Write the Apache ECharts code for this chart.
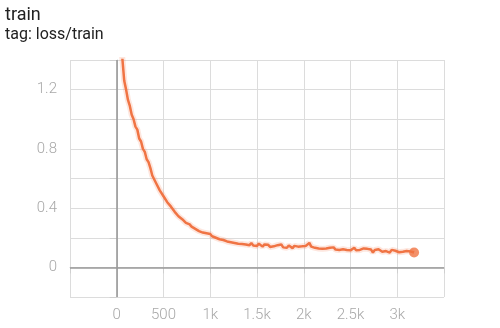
<!DOCTYPE html>
<html>
<head>
<meta charset="utf-8">
<script src="https://cdn.jsdelivr.net/npm/echarts@6/dist/echarts.min.js"></script>
<style>
html,body{margin:0;padding:0;background:#fff;}
#c{width:500px;height:328px;}
</style>
</head>
<body>
<div id="c"></div>
<script>
// [step, loss]
var lossPoints = [
[0,2.00],[20,1.72],[40,1.50],[60,1.41],[80,1.26],[100,1.20],[120,1.13],[140,1.09],[160,1.03],[180,1.00],
[200,0.95],[220,0.93],[240,0.87],[260,0.85],[280,0.80],[300,0.78],[320,0.73],[340,0.71],[360,0.67],[380,0.62],
[400,0.61],[420,0.57],[440,0.56],[460,0.52],[480,0.51],[500,0.48],[520,0.47],[540,0.44],[560,0.43],[580,0.41],
[600,0.40],[620,0.375],[640,0.37],[660,0.345],[680,0.34],[700,0.325],[720,0.32],[740,0.30],[760,0.295],[780,0.29],
[800,0.275],[820,0.28],[840,0.26],[860,0.265],[880,0.245],[900,0.25],[920,0.235],[940,0.24],[960,0.23],[980,0.22],
[1000,0.225],[1020,0.21],[1040,0.215],[1060,0.20],[1080,0.205],[1100,0.19],[1120,0.195],[1140,0.185],[1160,0.19],[1180,0.175],
[1200,0.18],[1220,0.17],[1240,0.178],[1260,0.165],[1280,0.172],[1300,0.16],[1320,0.168],[1340,0.158],[1360,0.17],[1380,0.155],
[1400,0.162],[1420,0.15],[1440,0.165],[1460,0.148],[1480,0.158],[1500,0.145],[1520,0.16],[1540,0.148],[1560,0.14],[1580,0.155],
[1600,0.145],[1620,0.152],[1640,0.138],[1660,0.15],[1680,0.142],[1700,0.135],[1720,0.15],[1740,0.14],[1760,0.155],[1780,0.135],
[1800,0.145],[1820,0.132],[1840,0.148],[1860,0.138],[1880,0.13],[1900,0.145],[1920,0.135],[1940,0.14],[1960,0.128],[1980,0.142],
[2000,0.135],[2020,0.145],[2040,0.155],[2060,0.165],[2080,0.14],[2100,0.15],[2120,0.132],[2140,0.14],[2160,0.128],[2180,0.135],
[2200,0.125],[2220,0.138],[2240,0.128],[2260,0.12],[2280,0.132],[2300,0.125],[2320,0.135],[2340,0.12],[2360,0.128],[2380,0.118],
[2400,0.13],[2420,0.122],[2440,0.135],[2460,0.118],[2480,0.128],[2500,0.115],[2520,0.125],[2540,0.132],[2560,0.115],[2580,0.125],
[2600,0.118],[2620,0.11],[2640,0.128],[2660,0.118],[2680,0.125],[2700,0.112],[2720,0.12],[2740,0.10],[2760,0.118],[2780,0.11],
[2800,0.122],[2820,0.112],[2840,0.105],[2860,0.118],[2880,0.11],[2900,0.115],[2920,0.10],[2940,0.118],[2960,0.108],[2980,0.112],
[3000,0.118],[3020,0.102],[3040,0.112],[3060,0.105],[3080,0.098],[3100,0.11],[3120,0.102],[3140,0.108],[3160,0.10],[3180,0.10]
];
var xTickLabels = {'0':'0','500':'500','1000':'1k','1500':'1.5k','2000':'2k','2500':'2.5k','3000':'3k'};
var yTickLabels = {'0':'0','0.4':'0.4','0.8':'0.8','1.2':'1.2'};

var last = lossPoints[lossPoints.length-1];
var chart = echarts.init(document.getElementById('c'));
var lblFont = 'Roboto, "Liberation Sans", sans-serif';
chart.setOption({
  animation:false,
  graphic:[
    {type:'text', left:5, top:6, style:{text:'train', fontSize:18, fontFamily:lblFont, fill:'#212121'}},
    {type:'text', left:5, top:27, style:{text:'tag: loss/train', fontSize:16, fontFamily:lblFont, fill:'#212121'}}
  ],
  grid:{left:70, right:56, top:60, bottom:31},
  xAxis:{type:'value', min:-500, max:3500, interval:500,
    axisLine:{show:true, lineStyle:{color:'#cfcfcf'}},
    axisTick:{show:true, length:6, lineStyle:{color:'#cfcfcf'}},
    splitLine:{show:true, lineStyle:{color:'#dcdcdc'}},
    axisLabel:{margin:11, color:'#a8a8a8', fontSize:15, fontFamily:lblFont, fontWeight:300,
      formatter:function(v){var k=String(Math.round(v)); return xTickLabels[k]!==undefined?xTickLabels[k]:'';}}
  },
  yAxis:{type:'value', min:-0.2, max:1.4, interval:0.2,
    axisLine:{show:true, lineStyle:{color:'#cfcfcf'}},
    axisTick:{show:true, length:7, lineStyle:{color:'#cfcfcf'}},
    splitLine:{show:true, lineStyle:{color:'#dcdcdc'}},
    axisLabel:{margin:13, color:'#a8a8a8', fontSize:15, fontFamily:lblFont, fontWeight:300,
      formatter:function(v){var k=String(Math.round(v*10)/10); return yTickLabels[k]!==undefined?yTickLabels[k]:'';}}
  },
  series:[
    {type:'line', data:lossPoints, showSymbol:false, symbol:'none', clip:true, silent:true,
      lineStyle:{color:'rgba(245,130,90,0.2)', width:6}, z:1},
    {type:'line', data:lossPoints, showSymbol:false, symbol:'none', clip:true,
      lineStyle:{color:'#f07444', width:2.5}, z:3,
      markLine:{silent:true, symbol:'none', label:{show:false},
        lineStyle:{color:'#9a9a9a', width:1.6, type:'solid'},
        data:[{xAxis:0},{yAxis:0}]}},
    {type:'scatter', data:[last], symbolSize:10, itemStyle:{color:'#f07444'}, z:4}
  ]
});
</script>
</body>
</html>
